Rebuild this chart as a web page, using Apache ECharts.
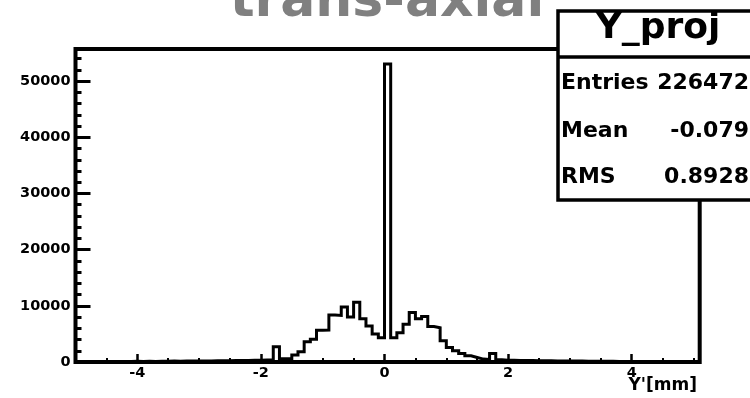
<!DOCTYPE html>
<html>
<head>
<meta charset="utf-8">
<script src="https://cdn.jsdelivr.net/npm/echarts@6/dist/echarts.min.js"></script>
<style>
  html, body { margin: 0; padding: 0; background: #fff; }
  #chart { width: 750px; height: 398px; }
</style>
</head>
<body>
<div id="chart"></div>
<script>
// Histogram binning: 101 bins of 0.1 mm starting at -5.0 mm
const binMin = -5.0;
const binWidth = 0.1;
const counts = [
  40, 60, 50, 80, 70, 90, 80, 110, 90, 120,
  100, 130, 110, 140, 130, 160, 150, 170, 160, 190,
  180, 200, 210, 230, 220, 250, 270, 260, 300, 320,
  360, 420, 2720, 560, 620, 1250, 1830, 3600, 4040, 5640,
  5700, 8370, 8300, 9790, 8000, 10650, 7700, 6400, 5000, 4330,
  53070, 4300, 5200, 6700, 8800, 7700, 8100, 6300, 6100, 3800,
  2600, 2000, 1500, 1100, 800, 520, 460, 1500, 380, 330,
  300, 280, 260, 250, 230, 210, 220, 190, 180, 170,
  160, 170, 150, 140, 130, 140, 120, 110, 100, 110,
  90, 80, 90, 70, 60, 70, 60, 50, 50, 40,
  40
];

// Axis ticks and labels
const xTickLabels = [-4, -2, 0, 2, 4];
const xMajorTicks = [-4, -2, 0, 2, 4];
const xMinorTicks = [-4.5, -3.5, -3, -2.5, -1.5, -1, -0.5, 0.5, 1, 1.5, 2.5, 3, 3.5, 4.5, 5];
const yTickLabels = [0, 10000, 20000, 30000, 40000, 50000];
const yMajorTicks = [10000, 20000, 30000, 40000, 50000];
const yMinorTicks = [2000, 4000, 6000, 8000, 12000, 14000, 16000, 18000, 22000, 24000, 26000, 28000,
  32000, 34000, 36000, 38000, 42000, 44000, 46000, 48000, 52000, 54000];

// Statistics box
const statsTitle = 'Y_proj';
const statsNames = ['Entries', 'Mean', 'RMS'];
const statsValues = ['226472', '-0.079', '0.8928'];

const xMax = binMin + binWidth * counts.length;
const yMax = Math.max(...counts) * 1.05;

// Step outline: one point per lower bin edge, plus the closing upper edge
const outline = counts.map((c, i) => [+(binMin + i * binWidth).toFixed(2), c]);
outline.push([+xMax.toFixed(2), counts[counts.length - 1]]);

const FONT = '"DejaVu Sans", sans-serif';
const labelStyle = { fontFamily: FONT, fontWeight: 'bold', fontSize: 14.5, color: '#000' };

const chart = echarts.init(document.getElementById('chart'), null, { renderer: 'canvas' });

const statRows = [82.8, 131.7, 176.8];
const graphics = [
  {
    type: 'text', x: 387, y: 2, z: 50,
    style: { text: 'trans-axial', font: 'bold 52px ' + FONT, fill: '#808080',
             align: 'center', verticalAlign: 'middle', textAlign: 'center', textVerticalAlign: 'middle' }
  },
  {
    type: 'text', x: 697, y: 386, z: 50,
    style: { text: "Y'[mm]", font: 'bold 17px ' + FONT, fill: '#000',
             align: 'right', verticalAlign: 'middle', textAlign: 'right', textVerticalAlign: 'middle' }
  },
  {
    type: 'rect', z: 100,
    shape: { x: 558, y: 11, width: 240, height: 189 },
    style: { fill: '#fff', stroke: '#000', lineWidth: 3.5 }
  },
  {
    type: 'line', z: 101,
    shape: { x1: 558, y1: 57, x2: 800, y2: 57 },
    style: { stroke: '#000', lineWidth: 3.5 }
  },
  {
    type: 'text', x: 658, y: 28.5, z: 102,
    style: { text: statsTitle, font: 'bold 36px ' + FONT, fill: '#000',
             align: 'center', verticalAlign: 'middle', textAlign: 'center', textVerticalAlign: 'middle' }
  }
];
statsNames.forEach((name, i) => {
  graphics.push({
    type: 'text', x: 561, y: statRows[i], z: 102,
    style: { text: name, font: 'bold 22px ' + FONT, fill: '#000',
             align: 'left', verticalAlign: 'middle', textAlign: 'left', textVerticalAlign: 'middle' }
  });
  graphics.push({
    type: 'text', x: 749, y: statRows[i], z: 102,
    style: { text: statsValues[i], font: 'bold 22px ' + FONT, fill: '#000',
             align: 'right', verticalAlign: 'middle', textAlign: 'right', textVerticalAlign: 'middle' }
  });
});

chart.setOption({
  animation: false,
  backgroundColor: '#fff',
  grid: {
    left: 75.5, top: 49, width: 624.2, height: 313,
    show: true, borderColor: '#000', borderWidth: 4, backgroundColor: 'transparent',
    containLabel: false, outerBoundsMode: 'none'
  },
  xAxis: [
    {
      type: 'value', min: binMin, max: xMax, position: 'bottom',
      axisLine: { show: false, onZero: false }, splitLine: { show: false },
      axisTick: { inside: true, length: 4, customValues: xMinorTicks, lineStyle: { color: '#000', width: 2 } },
      axisLabel: Object.assign({ customValues: xTickLabels, margin: 4, formatter: v => String(v) }, labelStyle)
    },
    {
      type: 'value', min: binMin, max: xMax, position: 'bottom', offset: 0,
      axisLine: { show: false, onZero: false }, splitLine: { show: false },
      axisTick: { inside: true, length: 8, customValues: xMajorTicks, lineStyle: { color: '#000', width: 2.5 } },
      axisLabel: { show: false }
    }
  ],
  yAxis: [
    {
      type: 'value', min: 0, max: yMax, position: 'left',
      axisLine: { show: false, onZero: false }, splitLine: { show: false },
      axisTick: { inside: true, length: 6, customValues: yMinorTicks, lineStyle: { color: '#000', width: 3 } },
      axisLabel: Object.assign({ customValues: yTickLabels, margin: 5, formatter: v => String(v) }, labelStyle)
    },
    {
      type: 'value', min: 0, max: yMax, position: 'left', offset: 0,
      axisLine: { show: false, onZero: false }, splitLine: { show: false },
      axisTick: { inside: true, length: 15, customValues: yMajorTicks, lineStyle: { color: '#000', width: 3 } },
      axisLabel: { show: false }
    }
  ],
  series: [
    {
      type: 'line',
      xAxisIndex: 0, yAxisIndex: 0,
      step: 'end',
      symbol: 'none',
      clip: true,
      lineStyle: { color: '#000', width: 3, join: 'miter', cap: 'butt' },
      data: outline
    }
  ],
  graphic: graphics
});
</script>
</body>
</html>
